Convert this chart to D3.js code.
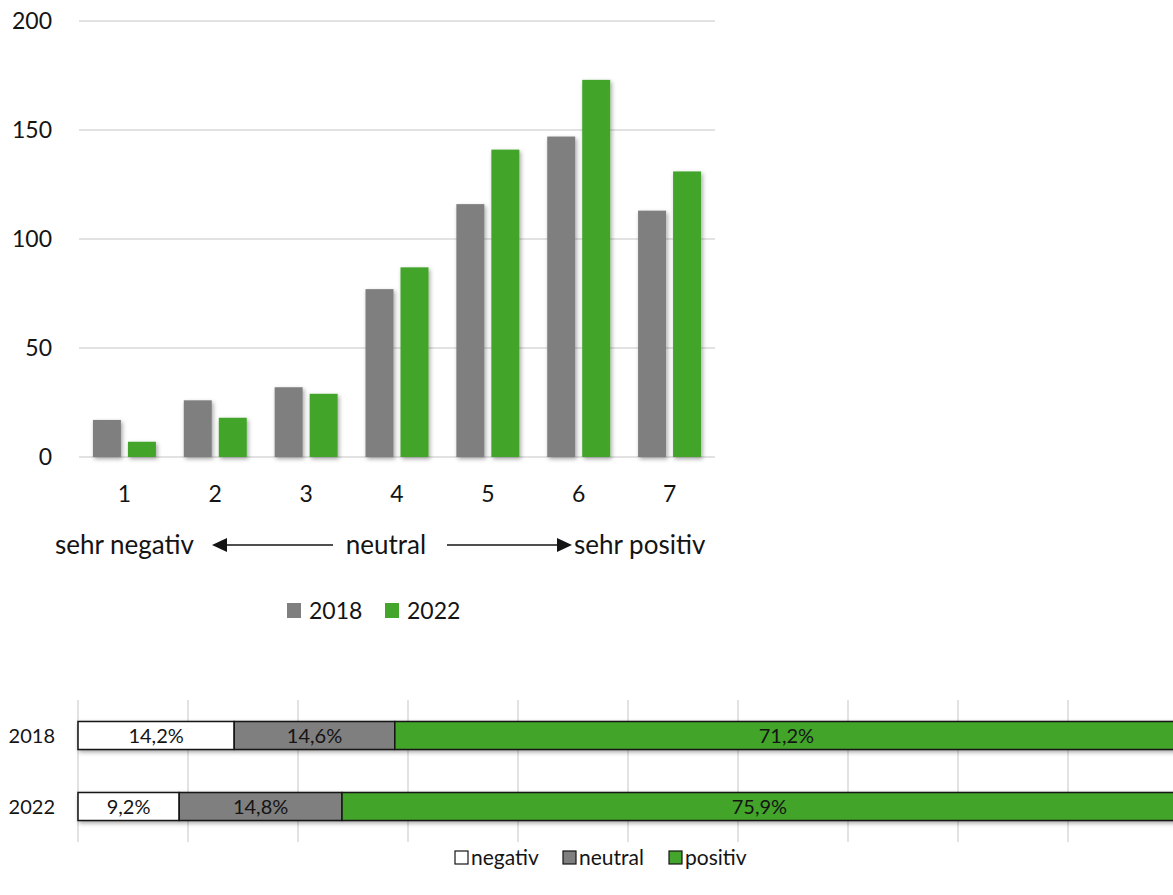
<!DOCTYPE html>
<html>
<head>
<meta charset="utf-8">
<script src="https://cdn.jsdelivr.net/npm/d3@7"></script>
<style>
  html, body { margin: 0; padding: 0; background: #fff; }
  svg { display: block; font-family: Lato, "Open Sans", sans-serif; }
</style>
</head>
<body>
<svg id="chart" width="1173" height="895"></svg>
<script>
// Ratings 1 (sehr negativ) .. 7 (sehr positiv), counts per survey year
const categories = ["1", "2", "3", "4", "5", "6", "7"];
const years = ["2018", "2022"];
const counts2018 = [17, 26, 32, 77, 116, 147, 113];
const counts2022 = [7, 18, 29, 87, 141, 173, 131];
const yTicks = [0, 50, 100, 150, 200];

// Grouped shares (percent)
const shareRows = ["2018", "2022"];
const shareGroups = ["negativ", "neutral", "positiv"];
const shareNegativ = [14.2, 9.2];
const shareNeutral = [14.6, 14.8];
const sharePositiv = [71.2, 75.9];
const shareLabels2018 = ["14,2%", "14,6%", "71,2%"];
const shareLabels2022 = ["9,2%", "14,8%", "75,9%"];

const colGray = "#7f7f7f";
const colGreen = "#43a52b";
const colGrid = "#d9d9d9";
const colText = "#141414";

const svg = d3.select("#chart");

// soft shadow used under bars
const defs = svg.append("defs");
const f = defs.append("filter").attr("id", "shadow")
  .attr("x", "-20%").attr("y", "-20%").attr("width", "150%").attr("height", "150%");
f.append("feDropShadow").attr("dx", 1.5).attr("dy", 2).attr("stdDeviation", 2)
  .attr("flood-color", "#000").attr("flood-opacity", 0.35);

// ---------- Column chart ----------
const plot = { left: 79, right: 715, top: 21, bottom: 457 };
const x = d3.scaleBand().domain(categories).range([plot.left, plot.right]);
const y = d3.scaleLinear().domain([0, 200]).range([plot.bottom, plot.top]);
const barW = 28, barGap = 7;
const xs = d3.scaleOrdinal().domain(years).range([-(barW + barGap / 2), barGap / 2]);

const gGrid = svg.append("g");
gGrid.selectAll("line").data(yTicks).join("line")
  .attr("x1", plot.left).attr("x2", plot.right)
  .attr("y1", d => y(d)).attr("y2", d => y(d))
  .attr("stroke", colGrid).attr("stroke-width", 1.5);

const yAxis = svg.append("g")
  .attr("transform", `translate(${plot.left - 27},0)`)
  .call(d3.axisLeft(y).tickValues(yTicks).tickSize(0).tickPadding(0));
yAxis.select(".domain").remove();
yAxis.selectAll("text").attr("font-size", 23).attr("fill", colText)
  .attr("font-family", "Lato, sans-serif");

const series = [
  { year: "2018", values: counts2018, color: colGray },
  { year: "2022", values: counts2022, color: colGreen }
];
const gBars = svg.append("g").attr("filter", "url(#shadow)");
series.forEach(s => {
  gBars.selectAll(null).data(categories).join("rect")
    .attr("x", (c) => x(c) + x.bandwidth() / 2 + xs(s.year))
    .attr("y", (c, i) => y(s.values[i]))
    .attr("width", barW)
    .attr("height", (c, i) => y(0) - y(s.values[i]))
    .attr("fill", s.color);
});

const xAxis = svg.append("g")
  .attr("transform", `translate(0,${plot.bottom})`)
  .call(d3.axisBottom(x).tickSize(0).tickPadding(0));
xAxis.select(".domain").remove();
xAxis.selectAll("text").attr("font-size", 23).attr("fill", colText)
  .attr("font-family", "Lato, sans-serif").attr("y", 37).attr("dy", "0.35em");

// scale direction annotation
const ann = svg.append("g").attr("font-size", 26).attr("fill", colText);
const annY = 545;
ann.append("text").attr("x", 55).attr("y", annY).attr("dy", "0.35em").text("sehr negativ");
ann.append("text").attr("x", 386).attr("y", annY).attr("dy", "0.35em")
  .attr("text-anchor", "middle").text("neutral");
ann.append("text").attr("x", 574).attr("y", annY).attr("dy", "0.35em").text("sehr positiv");
ann.append("line").attr("x1", 224).attr("x2", 333).attr("y1", annY).attr("y2", annY)
  .attr("stroke", colText).attr("stroke-width", 1.3);
ann.append("path").attr("d", `M212,${annY} L227,${annY - 7} L227,${annY + 7} Z`).attr("fill", colText);
ann.append("line").attr("x1", 447).attr("x2", 560).attr("y1", annY).attr("y2", annY)
  .attr("stroke", colText).attr("stroke-width", 1.3);
ann.append("path").attr("d", `M572,${annY} L557,${annY - 7} L557,${annY + 7} Z`).attr("fill", colText);

// legend for years
const leg1 = svg.append("g").attr("font-size", 23).attr("fill", colText);
const leg1Items = [{ t: "2018", c: colGray, x: 287 }, { t: "2022", c: colGreen, x: 385 }];
leg1Items.forEach(d => {
  leg1.append("rect").attr("x", d.x).attr("y", 603).attr("width", 14).attr("height", 15).attr("fill", d.c);
  leg1.append("text").attr("x", d.x + 22).attr("y", 611).attr("dy", "0.36em").text(d.t);
});

// ---------- 100% stacked bar chart ----------
const bx = d3.scaleLinear().domain([0, 100]).range([78, 1178]);
const by = d3.scaleBand().domain(shareRows).range([700, 842]).paddingInner(0.5).paddingOuter(0.25);
const gridVals = d3.range(0, 101, 10);
svg.append("g").selectAll("line").data(gridVals).join("line")
  .attr("x1", d => bx(d)).attr("x2", d => bx(d))
  .attr("y1", 700).attr("y2", 842)
  .attr("stroke", colGrid).attr("stroke-width", 1.5);

const rows = shareRows.map((r, i) => {
  const vals = [shareNegativ[i], shareNeutral[i], sharePositiv[i]];
  const labels = i === 0 ? shareLabels2018 : shareLabels2022;
  let acc = 0;
  return vals.map((v, j) => {
    const seg = { row: r, group: shareGroups[j], x0: acc, x1: acc + v, label: labels[j] };
    acc += v;
    return seg;
  });
});
const segColor = d3.scaleOrdinal().domain(shareGroups).range(["#ffffff", colGray, colGreen]);
const barH = 28;
const gStack = svg.append("g");
rows.forEach(segs => {
  const g = gStack.append("g");
  const yy = by(segs[0].row) + by.bandwidth() / 2 - barH / 2;
  g.append("g").attr("filter", "url(#shadow)").selectAll("rect").data(segs).join("rect")
    .attr("x", d => bx(d.x0)).attr("y", yy)
    .attr("width", d => bx(d.x1) - bx(d.x0)).attr("height", barH)
    .attr("fill", d => segColor(d.group))
    .attr("stroke", colText).attr("stroke-width", 1.5);
  g.selectAll("text").data(segs).join("text")
    .attr("x", d => (bx(d.x0) + bx(d.x1)) / 2).attr("y", yy + barH / 2)
    .attr("dy", "0.36em").attr("text-anchor", "middle")
    .attr("font-size", 20).attr("fill", colText).text(d => d.label);
  svg.append("text").attr("x", 55).attr("y", yy + barH / 2).attr("dy", "0.36em")
    .attr("text-anchor", "end").attr("font-size", 20).attr("fill", colText).text(segs[0].row);
});

// legend for groups
const leg2 = svg.append("g").attr("font-size", 21).attr("fill", colText);
const leg2Items = [
  { t: "negativ", c: "#ffffff", x: 455 },
  { t: "neutral", c: colGray, x: 563 },
  { t: "positiv", c: colGreen, x: 669 }
];
leg2Items.forEach(d => {
  leg2.append("rect").attr("x", d.x).attr("y", 851).attr("width", 13).attr("height", 13)
    .attr("fill", d.c).attr("stroke", colText).attr("stroke-width", 1.2);
  leg2.append("text").attr("x", d.x + 16).attr("y", 857).attr("dy", "0.36em").text(d.t);
});
</script>
</body>
</html>
